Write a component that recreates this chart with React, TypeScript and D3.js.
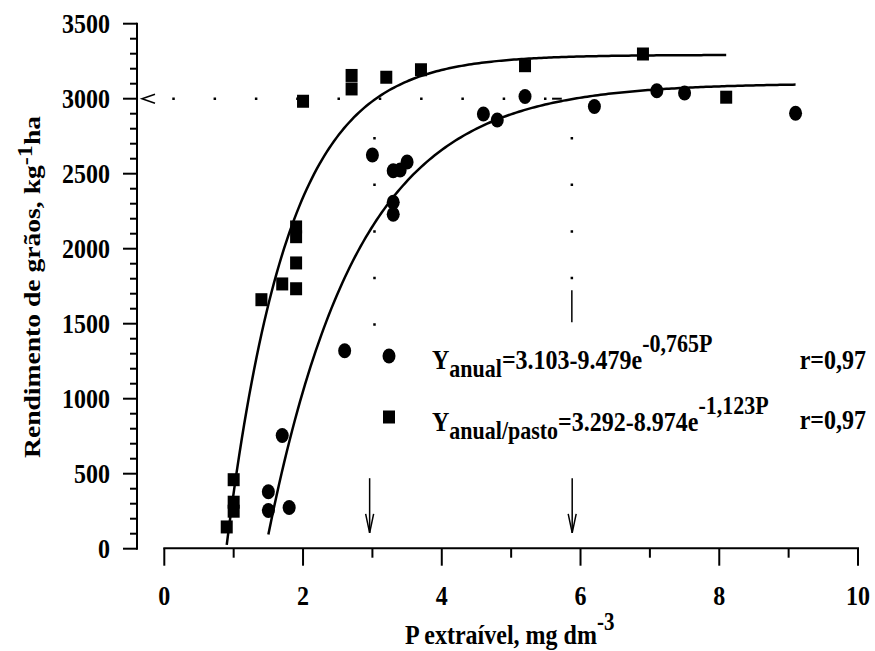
import React from 'react';
import * as d3 from 'd3';

const W = 875;
const H = 651;

// ---- data ----
const anualP = [1.5, 1.5, 1.7, 1.8, 2.6, 3.0, 3.3, 3.3, 3.3, 3.4, 3.5, 4.6, 4.8, 5.2, 6.2, 7.1, 7.5, 9.1];
const anualY = [380, 255, 755, 275, 1320, 2625, 2520, 2310, 2230, 2525, 2578, 2898, 2858, 3015, 2948, 3053, 3038, 2903];
const pastoP = [0.9, 1.0, 1.0, 1.0, 1.4, 1.7, 1.9, 1.9, 1.9, 1.9, 2.0, 2.7, 2.7, 3.2, 3.7, 5.2, 6.9, 8.1];
const pastoY = [145, 250, 310, 460, 1660, 1765, 1733, 1905, 2080, 2145, 2983, 3065, 3155, 3143, 3193, 3220, 3298, 3010];

// fitted models Y = a - b*exp(-c*P) from the legend, with plotted P range
const fitAnual = [3103, 9479, 0.765];
const fitAnualRange = [1.5, 9.1];
const fitPasto = [3292, 8974, 1.123];
const fitPastoRange = [0.9, 8.1];

const xTicks = [0, 2, 4, 6, 8, 10];
const xMinor = [1, 3, 5, 7, 9];
const yTicks = [0, 500, 1000, 1500, 2000, 2500, 3000, 3500];
const yMinor = d3.range(0, 3501, 100).filter((v) => v % 500 !== 0);

const arrowP = [2.96, 5.88];

const FONT = '"Liberation Serif", "Times New Roman", Times, serif';
const SY = 1.15;

const x = d3.scaleLinear().domain([0, 10]).range([164.3, 858]);
const y = d3.scaleLinear().domain([0, 3500]).range([548.7, 23.7]);
const Y_AXIS_X = 137;

function fitPoints(f: number[], r: number[]) {
  const [a, b, c] = f;
  const n = 200;
  return d3.range(n + 1).map((i) => {
    const p = r[0] + ((r[1] - r[0]) * i) / n;
    return [p, a - b * Math.exp(-c * p)] as [number, number];
  });
}

const line = d3
  .line<[number, number]>()
  .x((d) => x(d[0]))
  .y((d) => y(d[1]))
  .curve(d3.curveLinear);

function T(props: { x: number; y: number; anchor?: string; size?: number; rotate?: boolean; children: any }) {
  const { anchor = 'start', size = 24, rotate = false } = props;
  const tr = `translate(${props.x},${props.y}) scale(1,${SY})${rotate ? ' rotate(-90)' : ''}`;
  return (
    <text transform={tr} textAnchor={anchor} fontFamily={FONT} fontWeight="bold" fontSize={size} fill="#000">
      {props.children}
    </text>
  );
}

export default function App() {
  const anualPts = anualP.map((p, i) => [p, anualY[i]]);
  const pastoPts = pastoP.map((p, i) => [p, pastoY[i]]);
  const y3000 = y(3000);

  return (
    <svg width={W} height={H} style={{ position: 'absolute', left: 0, top: 0, background: '#fff' }}>
      <rect x={0} y={0} width={W} height={H} fill="#fff" />

      {/* Y axis */}
      <line x1={Y_AXIS_X} x2={Y_AXIS_X} y1={y(0) + 1} y2={y(3500) - 1} stroke="#000" strokeWidth={2} />
      {yTicks.map((v) => (
        <line key={'yt' + v} x1={Y_AXIS_X - 14} x2={Y_AXIS_X} y1={y(v)} y2={y(v)} stroke="#000" strokeWidth={2} />
      ))}
      {yMinor.map((v) => (
        <line key={'ym' + v} x1={Y_AXIS_X - 7} x2={Y_AXIS_X} y1={y(v)} y2={y(v)} stroke="#000" strokeWidth={2} />
      ))}
      {yTicks.map((v) => (
        <T key={'yl' + v} x={110} y={y(v) + 9} anchor="end">
          {String(v)}
        </T>
      ))}

      {/* X axis */}
      <line x1={x(0) - 1} x2={x(10) + 1} y1={y(0) - 0.5} y2={y(0) - 0.5} stroke="#000" strokeWidth={2} />
      {xTicks.map((v) => (
        <line key={'xt' + v} x1={x(v)} x2={x(v)} y1={y(0) - 0.5} y2={y(0) + 17} stroke="#000" strokeWidth={2} />
      ))}
      {xMinor.map((v) => (
        <line key={'xm' + v} x1={x(v)} x2={x(v)} y1={y(0) - 0.5} y2={y(0) + 9} stroke="#000" strokeWidth={2} />
      ))}
      {xTicks.map((v) => (
        <T key={'xl' + v} x={x(v)} y={605} anchor="middle">
          {String(v)}
        </T>
      ))}

      {/* axis titles */}
      <T x={405} y={644}>
        P extraível, mg dm<tspan dy={-12} fontSize={21}>-3</tspan>
      </T>
      <T x={40} y={287} anchor="middle" rotate>
        Rendimento de grãos, kg<tspan dy={-8} fontSize={21}>-1</tspan>
        <tspan dy={8}>ha</tspan>
      </T>

      {/* reference dotted lines */}
      <line
        x1={x(0.115)}
        x2={x(5.76)}
        y1={y3000}
        y2={y3000}
        stroke="#000"
        strokeWidth={2.5}
        strokeDasharray="2.5,38.8"
      />
      <line x1={x(5.59)} x2={x(5.73)} y1={y3000} y2={y3000} stroke="#000" strokeWidth={2} />
      <path
        d={`M${Y_AXIS_X + 18},${y3000 - 4.5} L${Y_AXIS_X + 5},${y3000} L${Y_AXIS_X + 18},${y3000 + 4.5}`}
        fill="none"
        stroke="#000"
        strokeWidth={1.5}
      />
      <line x1={x(3.03)} x2={x(3.03)} y1={y(2745)} y2={y(1485)} stroke="#000" strokeWidth={2.5} strokeDasharray="2.5,44.1" />
      <line x1={x(5.875)} x2={x(5.875)} y1={y(2745)} y2={y(1750)} stroke="#000" strokeWidth={2.5} strokeDasharray="2.5,44.1" />
      <line x1={x(5.875)} x2={x(5.875)} y1={y(1723)} y2={y(1509)} stroke="#000" strokeWidth={1.5} />

      {/* arrows */}
      {arrowP.map((p) => (
        <g key={'ar' + p} stroke="#000" strokeWidth={1.5} fill="none">
          <line x1={x(p)} x2={x(p)} y1={y(470)} y2={y(105)} />
          <path d={`M${x(p) - 4},${y(105) - 19} L${x(p)},${y(105)} L${x(p) + 4},${y(105) - 19}`} />
        </g>
      ))}

      {/* fitted curves */}
      <path d={line(fitPoints(fitAnual, fitAnualRange)) || ''} fill="none" stroke="#000" strokeWidth={2.5} />
      <path d={line(fitPoints(fitPasto, fitPastoRange)) || ''} fill="none" stroke="#000" strokeWidth={2.5} />

      {/* points */}
      {anualPts.map((d, i) => (
        <ellipse key={'c' + i} cx={x(d[0])} cy={y(d[1])} rx={6.5} ry={7.5} fill="#000" />
      ))}
      {pastoPts.map((d, i) => (
        <rect key={'s' + i} x={x(d[0]) - 6} y={y(d[1]) - 6.5} width={12} height={13} fill="#000" />
      ))}

      {/* legend */}
      <ellipse cx={389} cy={356} rx={6.5} ry={7.5} fill="#000" />
      <T x={432} y={369}>
        Y<tspan dy={7} fontSize={22}>anual</tspan>
        <tspan dy={-7}>=3.103-9.479e</tspan>
        <tspan dy={-15} fontSize={22}>-0,765P</tspan>
      </T>
      <T x={866} y={369} anchor="end">r=0,97</T>

      <rect x={383} y={410.5} width={12} height={13} fill="#000" />
      <T x={432} y={431}>
        Y<tspan dy={7} fontSize={22}>anual/pasto</tspan>
        <tspan dy={-7}>=3.292-8.974e</tspan>
        <tspan dy={-15} fontSize={22}>-1,123P</tspan>
      </T>
      <T x={866} y={429} anchor="end">r=0,97</T>
    </svg>
  );
}
